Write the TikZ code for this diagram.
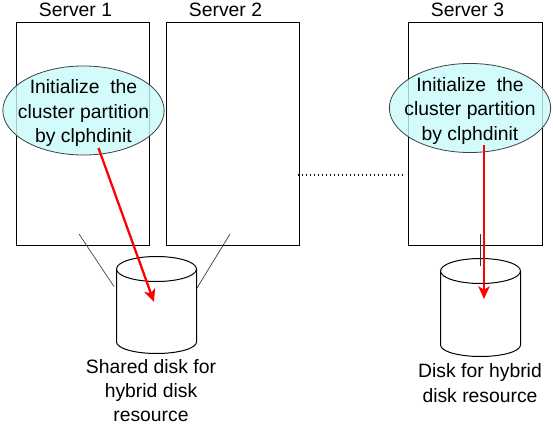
\documentclass[tikz,border=0pt]{standalone}
\usepackage{fontspec}
\setmainfont{Liberation Sans}
\usetikzlibrary{arrows.meta,shapes.geometric}
\definecolor{bubblefill}{HTML}{C8FAFA}
\newcommand{\initline}{\rule{0pt}{14.5pt}Initialize~ the\\cluster partition\\by clphdinit}
\tikzset{
  server/.style={draw=black,line width=0.8pt,minimum width=100pt,minimum height=167.6pt,inner sep=0pt},
  label/.style={font=\fontsize{14.5}{18.3}\selectfont,align=center,inner sep=0pt,text=black},
  bubble/.style={label,ellipse,draw=black!75,line width=0.6pt,fill=bubblefill,fill opacity=0.8,text opacity=1,minimum width=121pt,minimum height=66.8pt,inner xsep=-12pt,inner ysep=-12pt},
  disk/.style={draw=black,line width=0.75pt,fill=white},
  link/.style={draw=black!80,line width=0.5pt},
  redarrow/.style={draw=red,line width=1.7pt,-{Stealth[length=9.5pt,width=8.5pt,inset=2.5pt]}},
}
\begin{document}
\begin{tikzpicture}[x=0.75pt,y=-0.75pt]
\useasboundingbox (0,0) rectangle (553,424);
\node[server] (s1) at (83,134.2) {};
\node[server] (s2) at (232.7,134.2) {};
\node[server] (s3) at (475.5,134.2) {};
\node[label] (t1) at (75.5,9.5) {Server 1};
\node[label] (t2) at (225.5,9.5) {Server 2};
\node[label] (t3) at (467.5,9.5) {Server 3};
\coordinate (l1a) at (79,234); \coordinate (l1b) at (114,286.5);
\coordinate (l2a) at (230,234); \coordinate (l2b) at (197,288);
\coordinate (l3a) at (480,234); \coordinate (l3b) at (480,266);
\coordinate (d1a) at (298,175); \coordinate (d1b) at (404,175);
\draw[link] (l1a) -- (l1b);
\draw[link] (l2a) -- (l2b);
% shared disk
\draw[disk] (116.5,269) -- (116.5,342) arc[start angle=180,end angle=0,x radius=40,y radius=11.5] -- (196.5,269);
\draw[disk] (156.5,269) ellipse[x radius=40,y radius=12.5];
% disk of server 3
\draw[disk] (440.5,271) -- (440.5,345) arc[start angle=180,end angle=0,x radius=40,y radius=11.5] -- (520.5,271);
\draw[disk] (480.5,271) ellipse[x radius=40,y radius=12.5];
\draw[link] (l3a) -- (l3b);
\draw[line width=1pt,dotted,black] (d1a) -- (d1b);
\node[bubble] (e1) at (83.5,110.5) {\initline};
\node[bubble] (e3) at (470,108) {\initline};
\coordinate (r1a) at (98.5,148); \coordinate (r1b) at (154,302);
\coordinate (r3a) at (484,145); \coordinate (r3b) at (484,299);
\draw[redarrow] (r1a) -- (r1b);
\draw[redarrow] (r3a) -- (r3b);
\node[label] (c1t) at (151,390.5) {Shared disk for\\hybrid disk\\resource};
\node[label] (c3t) at (480,383) {Disk for hybrid\\disk resource};
\end{tikzpicture}
\end{document}
